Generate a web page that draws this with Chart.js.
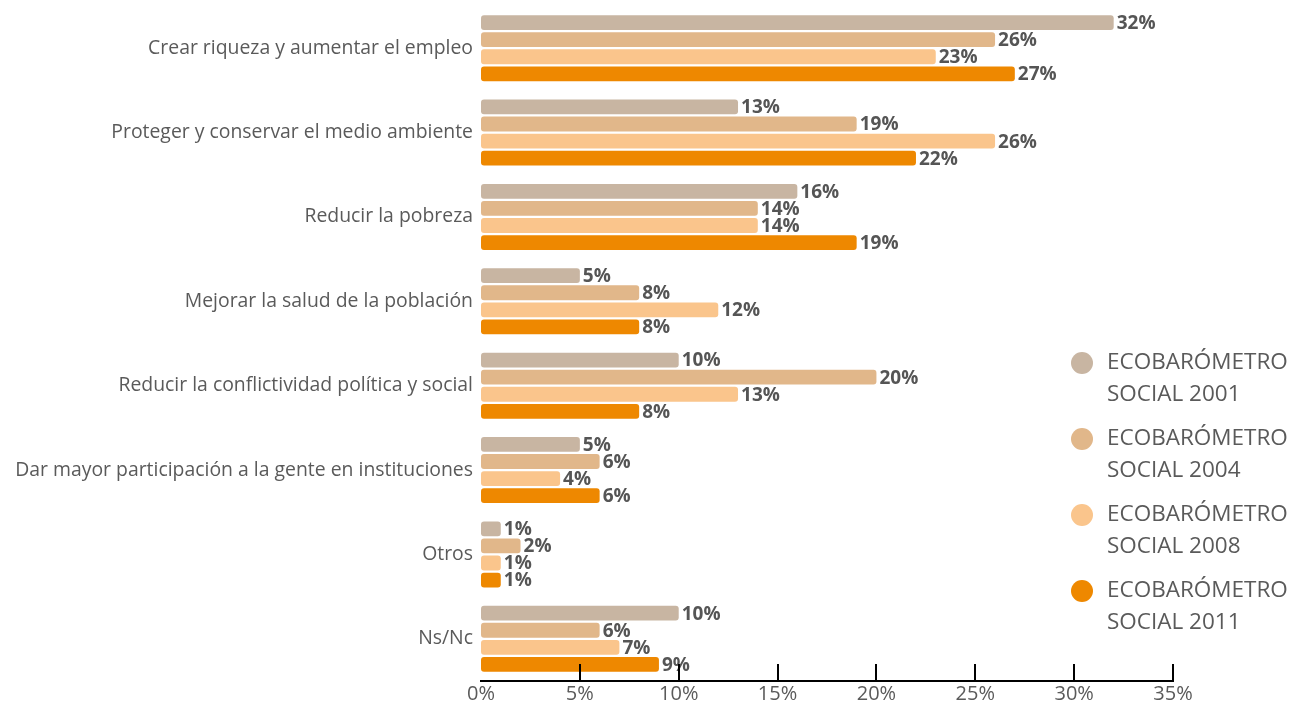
<!DOCTYPE html>
<html>
<head>
<meta charset="utf-8">
<script src="https://cdn.jsdelivr.net/npm/chart.js@4.4.1/dist/chart.umd.min.js"></script>
<style>
  html, body { margin: 0; padding: 0; background: #fff; }
  #wrap { width: 1290px; height: 704px; position: relative; }
</style>
</head>
<body>
<div id="wrap"><canvas id="chart" width="1290" height="704"></canvas></div>
<script>
// Categories and series
const categories = [
  "Crear riqueza y aumentar el empleo",
  "Proteger y conservar el medio ambiente",
  "Reducir la pobreza",
  "Mejorar la salud de la población",
  "Reducir la conflictividad política y social",
  "Dar mayor participación a la gente en instituciones",
  "Otros",
  "Ns/Nc",
];
const seriesNames = [
  ["ECOBARÓMETRO", "SOCIAL 2001"],
  ["ECOBARÓMETRO", "SOCIAL 2004"],
  ["ECOBARÓMETRO", "SOCIAL 2008"],
  ["ECOBARÓMETRO", "SOCIAL 2011"],
];
const values2001 = [32, 13, 16, 5, 10, 5, 1, 10];
const values2004 = [26, 19, 14, 8, 20, 6, 2, 6];
const values2008 = [23, 26, 14, 12, 13, 4, 1, 7];
const values2011 = [27, 22, 19, 8, 8, 6, 1, 9];
const xTicks = [0, 5, 10, 15, 20, 25, 30, 35];

const colors = ["#C8B5A2", "#E1B78A", "#FAC58C", "#EE8800"];
const textColor = "#5a5a5a";

const allValues = [values2001, values2004, values2008, values2011];

// Value labels at the end of each bar
const valueLabels = {
  id: "valueLabels",
  afterDatasetsDraw(chart) {
    const ctx = chart.ctx;
    ctx.save();
    ctx.font = "bold 19px 'Open Sans'";
    ctx.fillStyle = "#555555";
    ctx.textAlign = "left";
    ctx.textBaseline = "middle";
    chart.data.datasets.forEach((ds, i) => {
      chart.getDatasetMeta(i).data.forEach((bar, j) => {
        ctx.fillText(ds.data[j] + "%", bar.x + 3, bar.y + 1);
      });
    });
    ctx.restore();
  },
};

// Upward tick marks on the x axis
const upTicks = {
  id: "upTicks",
  afterDraw(chart) {
    const ctx = chart.ctx;
    const sx = chart.scales.x;
    const bottom = chart.chartArea.bottom;
    ctx.save();
    ctx.strokeStyle = "#000";
    ctx.lineWidth = 2;
    sx.ticks.forEach((t) => {
      if (t.value === 0) return;
      const px = Math.round(sx.getPixelForValue(t.value));
      ctx.beginPath();
      ctx.moveTo(px, bottom);
      ctx.lineTo(px, bottom - 17);
      ctx.stroke();
    });
    ctx.restore();
  },
};

// Legend drawn in the empty right-hand space
const sideLegend = {
  id: "sideLegend",
  afterDraw(chart) {
    const ctx = chart.ctx;
    ctx.save();
    ctx.font = "22.5px 'Open Sans'";
    ctx.textAlign = "left";
    ctx.textBaseline = "middle";
    chart.data.datasets.forEach((ds, i) => {
      const y = 363 + i * 76;
      ctx.fillStyle = ds.backgroundColor;
      ctx.beginPath();
      ctx.arc(1082, y, 11, 0, Math.PI * 2);
      ctx.fill();
      ctx.fillStyle = textColor;
      ctx.fillText(seriesNames[i][0], 1107, y);
      ctx.fillText(seriesNames[i][1], 1107, y + 32);
    });
    ctx.restore();
  },
};

const ctx = document.getElementById("chart").getContext("2d");
new Chart(ctx, {
  type: "bar",
  data: {
    labels: categories,
    datasets: allValues.map((vals, i) => ({
      label: seriesNames[i].join(" "),
      data: vals,
      backgroundColor: colors[i],
      borderRadius: 3,
      borderSkipped: false,
      categoryPercentage: 0.81,
      barPercentage: 0.87,
    })),
  },
  options: {
    indexAxis: "y",
    responsive: false,
    animation: false,
    layout: { padding: { top: 6, right: 117, left: 0, bottom: 0 } },
    plugins: {
      legend: { display: false },
      tooltip: { enabled: false },
    },
    scales: {
      x: {
        min: 0,
        max: 35,
        afterBuildTicks(scale) {
          scale.ticks = xTicks.map((v) => ({ value: v }));
        },
        afterFit(scale) {
          scale.height = 23;
        },
        grid: { display: false, drawTicks: false },
        border: { display: true, color: "#000", width: 2 },
        ticks: {
          padding: 1,
          color: textColor,
          font: { family: "Open Sans", size: 20 },
          callback: (v) => v + "%",
        },
      },
      y: {
        afterFit(scale) {
          scale.width = 481;
          scale.paddingTop = 0;
          scale.paddingBottom = 0;
        },
        grid: { display: false, drawTicks: false },
        border: { display: false },
        ticks: {
          padding: 8,
          color: textColor,
          font: { family: "Open Sans", size: 19.4 },
        },
      },
    },
  },
  plugins: [valueLabels, upTicks, sideLegend],
});
</script>
</body>
</html>
